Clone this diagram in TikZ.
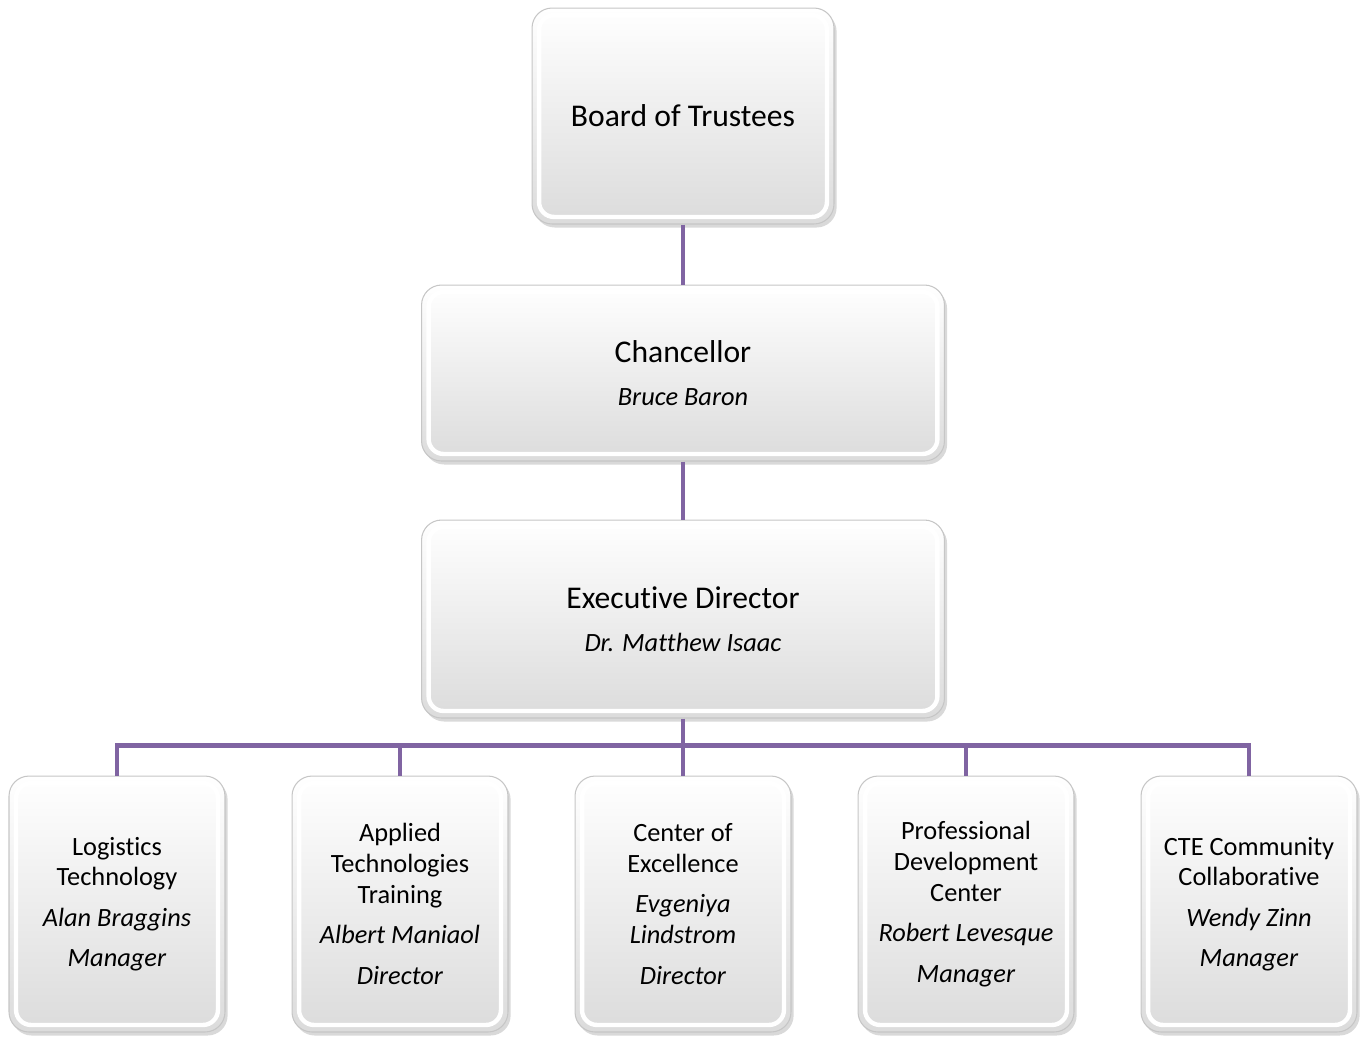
\documentclass[tikz,border=0pt]{standalone}
\usepackage{fontspec}
\setmainfont{Carlito}[Ligatures=NoCommon]
\usepackage{tikz}
\usetikzlibrary{positioning,shadows}
\definecolor{linkpurple}{RGB}{128,100,162}

\begin{document}
\begin{tikzpicture}[x=0.02cm, y=-0.02cm,
  box/.style={rectangle, rounded corners=0.4cm, draw=gray!45, line width=0.6pt,
    top color=white, bottom color=gray!28, align=center,
    drop shadow={opacity=0.3, shadow xshift=1.5pt, shadow yshift=-2pt},
    path picture={\draw[white, line width=2.5pt, rounded corners=0.3cm]
      ([shift={(4pt,-4pt)}]path picture bounding box.north west) rectangle
      ([shift={(-4pt,4pt)}]path picture bounding box.south east);},
    font=\fontsize{15}{17.5}\selectfont},
  topbox/.style={box, minimum width=10.46cm},
  unitbox/.style={box, minimum width=4.32cm, minimum height=5.12cm},
  link/.style={draw=linkpurple, line width=2.8pt}
]
  \useasboundingbox (0,0) rectangle (1361,1036);
  \node[box, minimum width=6.04cm, minimum height=4.32cm, font=\fontsize{18}{21}\selectfont] (board) at (683,116) {Board of Trustees};
  \node[topbox, minimum height=3.52cm, below=1.2cm of board] (chan) {{\fontsize{18}{21}\selectfont Chancellor}\\[7pt]\textit{Bruce Baron}};
  \node[topbox, minimum height=3.96cm, below=1.16cm of chan] (exec) {{\fontsize{18}{21}\selectfont Executive Director}\\[7pt]\textit{Dr. Matthew Isaac}};
  \node[unitbox, below=1.14cm of exec] (coe) {Center of\\Excellence\\[5.5pt]\textit{Evgeniya}\\\textit{Lindstrom}\\[5.5pt]\textit{Director}};
  \node[unitbox, left=1.32cm of coe] (att) {Applied\\Technologies\\Training\\[5.5pt]\textit{Albert Maniaol}\\[5.5pt]\textit{Director}};
  \node[unitbox, left=1.32cm of att] (logi) {Logistics\\Technology\\[5.5pt]\textit{Alan Braggins}\\[5.5pt]\textit{Manager}};
  \node[unitbox, right=1.32cm of coe] (pdc) {Professional\\Development\\Center\\[5.5pt]\textit{Robert Levesque}\\[5.5pt]\textit{Manager}};
  \node[unitbox, right=1.32cm of pdc] (cte) {CTE Community\\Collaborative\\[5.5pt]\textit{Wendy Zinn}\\[5.5pt]\textit{Manager}};
  \coordinate (bar) at ([yshift=-0.54cm]exec.south);
  \draw[link] (board) -- (chan);
  \draw[link] (chan) -- (exec);
  \draw[link] (exec.south) -- (bar) -| (logi.north);
  \draw[link] (bar) -| (att.north);
  \draw[link] (bar) -- (coe.north);
  \draw[link] (bar) -| (pdc.north);
  \draw[link] (bar) -| (cte.north);
\end{tikzpicture}
\end{document}
